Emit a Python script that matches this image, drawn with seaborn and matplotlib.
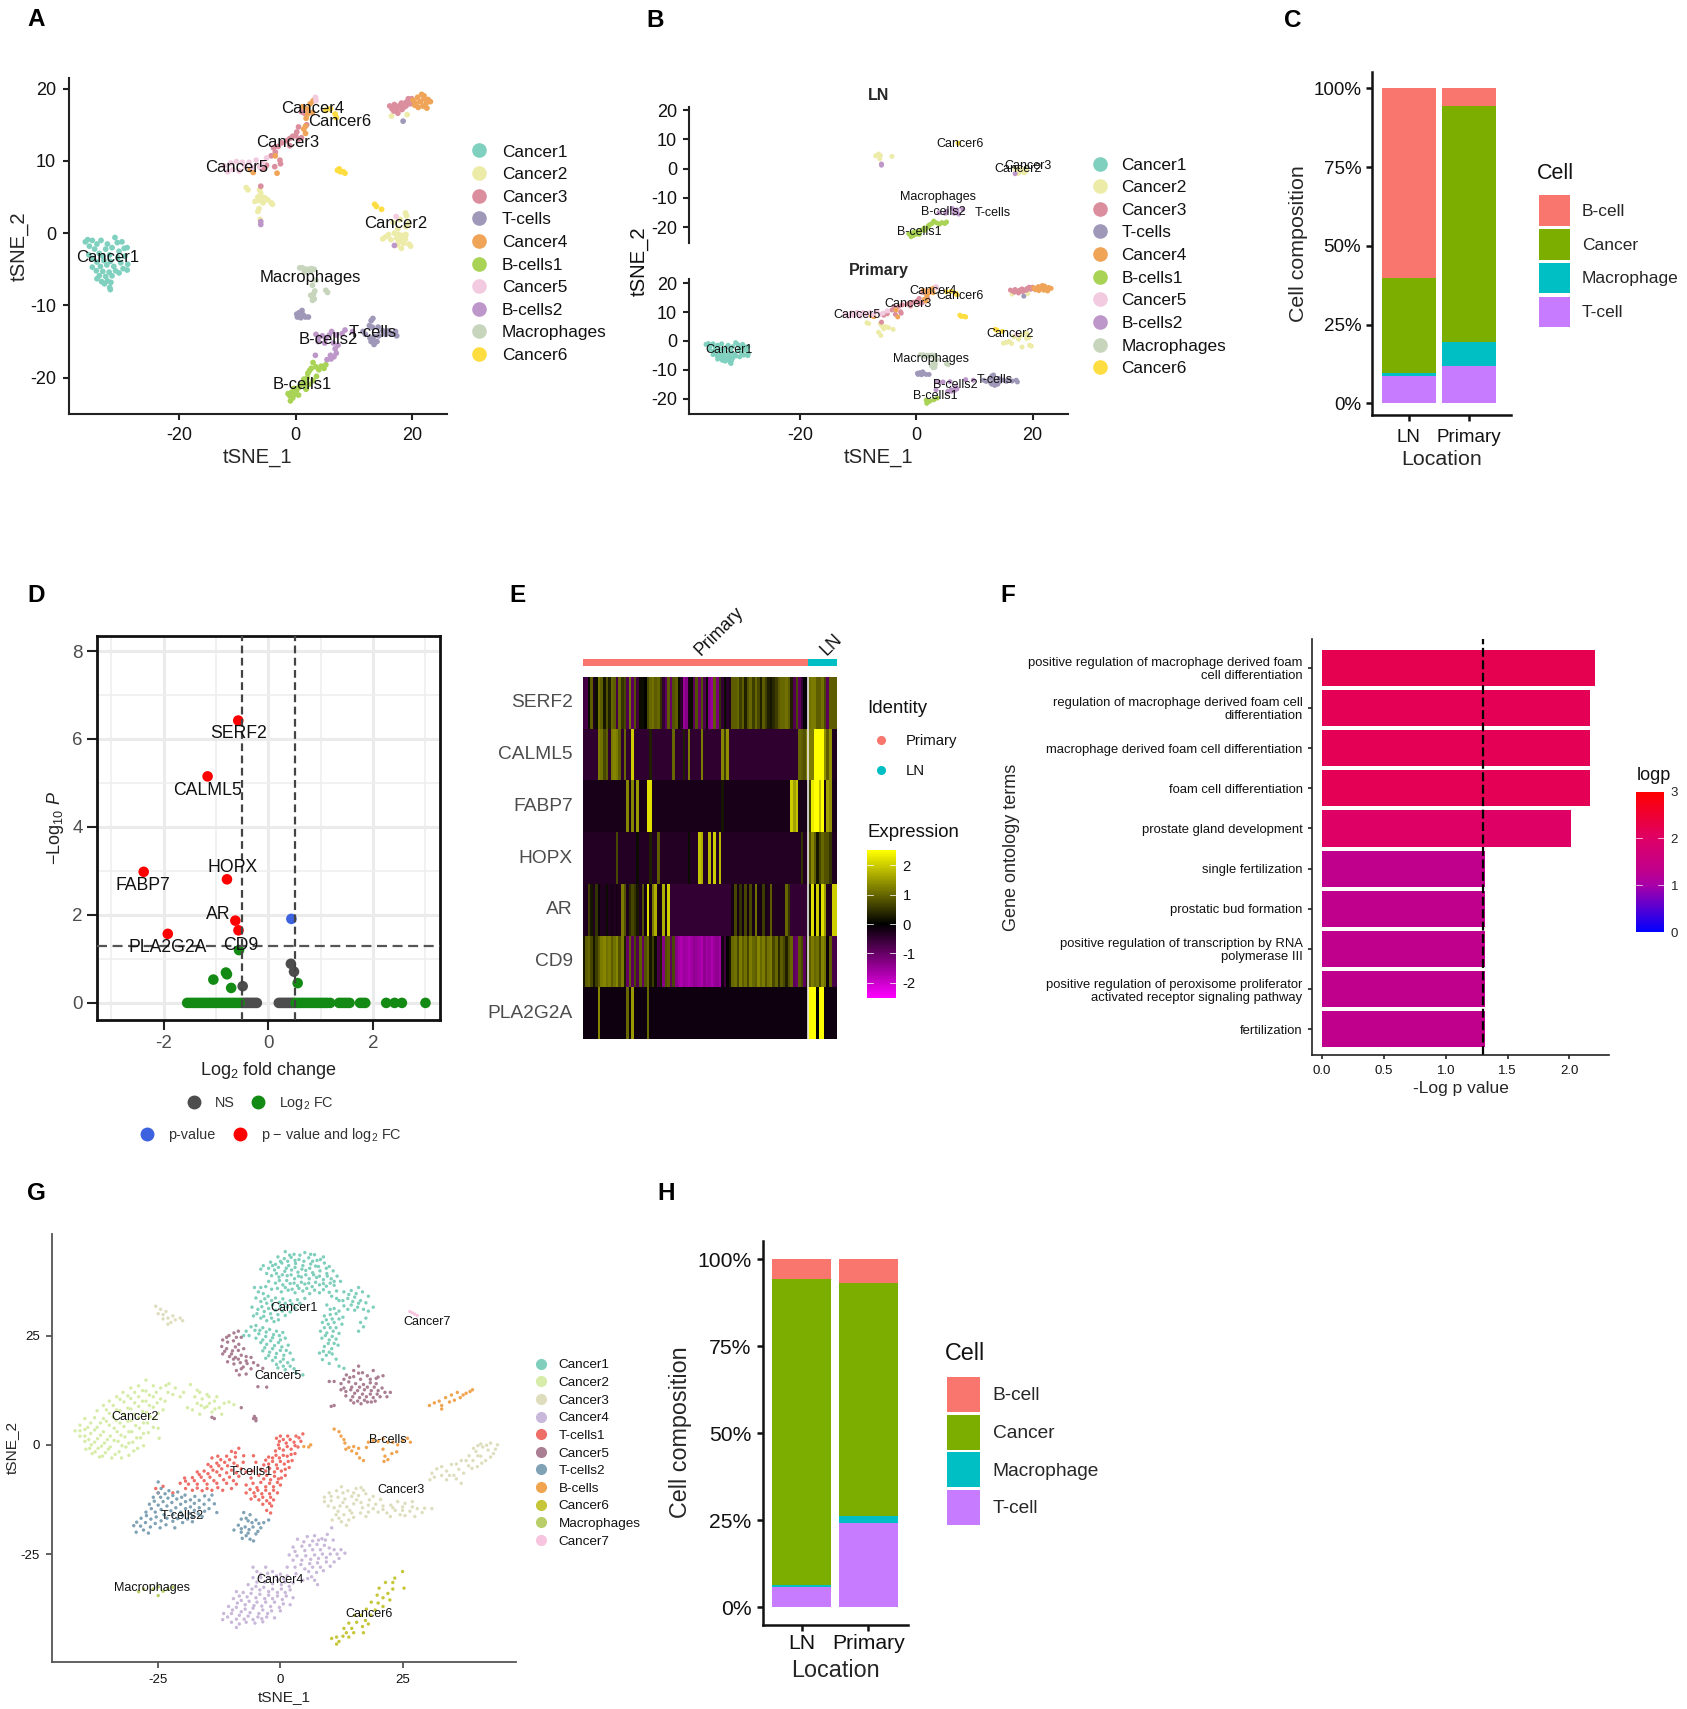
import numpy as np
import pandas as pd
import seaborn as sns
import matplotlib
matplotlib.use("Agg")
import matplotlib.pyplot as plt
from matplotlib.cm import ScalarMappable
from matplotlib.colors import LinearSegmentedColormap, ListedColormap, Normalize
from matplotlib.lines import Line2D
from matplotlib.patches import Patch

sns.set_theme(style="ticks")
plt.rcParams['font.family'] = ['Liberation Sans', 'DejaVu Sans']
plt.rcParams['mathtext.fontset'] = 'custom'
plt.rcParams['mathtext.rm'] = 'Liberation Sans'
plt.rcParams['mathtext.it'] = 'Liberation Sans:italic'
plt.rcParams['mathtext.default'] = 'regular'
plt.rcParams['axes.unicode_minus'] = False

# ---- panel A / B cells, tSNE coordinates ----
a_cancer1 = [(-36.2,-1.2),(-35.8,-0.9),(-35.5,-1.8),(-35.0,-1.0),(-34.6,-2.2),(-34.2,-1.5),(-33.8,-2.8),(-33.5,-1.0),
             (-33.2,-3.2),(-32.7,-2.2),(-32.4,-1.5),(-32.0,-3.0),(-31.6,-2.0),(-31.1,-0.6),(-30.7,-1.3),(-30.4,-2.5),
             (-29.9,-1.2),(-29.5,-2.1),(-29.0,-2.0),(-35.6,-3.0),(-34.9,-3.5),(-34.2,-4.0),(-33.6,-4.6),(-33.0,-3.8),
             (-32.5,-4.4),(-31.9,-3.9),(-31.3,-4.6),(-30.6,-3.4),(-30.1,-4.1),(-29.4,-3.2),(-28.9,-4.3),(-35.0,-4.7),
             (-34.3,-5.2),(-33.8,-5.9),(-33.2,-5.3),(-32.7,-6.0),(-32.1,-5.4),(-31.6,-5.9),(-31.0,-5.2),(-30.4,-5.5),
             (-29.7,-4.9),(-29.0,-5.1),(-34.2,-6.3),(-33.4,-6.7),(-32.9,-7.0),(-32.4,-6.6),(-31.8,-6.8),(-32.0,-7.5),(-31.9,-7.8)]
a_cancer2_primary = [(-8.5,6.3),(-8.2,6.0),(-6.2,6.0),(-6,5.5),(-5.8,4.9),(-5.3,4.9),(-5.6,4.2),(-4.8,4.6),(-4.0,4.0),
                     (-6.5,3.0),(-6.1,1.9),(18.9,2.8),(19.1,2.4),(18.0,1.9),(19.4,1.3),(19.0,0.9),(16.8,1.5),(17.6,0.6),
                     (15.5,-0.5),(15.0,-0.8),(16.0,-0.2),(16.4,-0.9),(19.5,-1.5),(19.8,-1.8),(18.2,-2.1),(16.5,16.2),
                     (19.2,16.4),(22.1,17.5)]
a_cancer2_ln = [(-6.5,5.0),(-6.2,4.5),(-7.0,4.4),(-6.3,3.4),(-4.2,4.2),(17.0,0),(17.8,-0.2),(18.5,-0.3),(19.0,-0.2),
                (17.4,-0.7),(18.2,-0.9),(18.9,-0.8),(17.7,-1.3),(18.6,-1.4),(17.5,-1.6)]
a_cancer3 = [(16.2,17.6),(16.6,17.2),(17,17.8),(17.4,17.2),(17.8,17.6),(18.2,18),(18.6,17.4),(19,18.1),(19.4,18.6),
             (19.7,17.9),(20,18.6),(20.3,18.1),(16.9,16.9),(17.6,16.6),(18.3,17.1),(19,17.6),(-6,6.5),(-2.7,10.1),
             (-2.6,9.6),(-3.6,9.2),(-5,9.4),(-5.6,8.9),(-4.2,10.7),(-3.5,11.2),(-3.8,11.8),(-3,12),(-2.4,12.5),
             (-1.5,12.8),(-1,13.1),(-0.5,13.4),(0,13.5),(0.5,13.0),(1,13.2),(0.2,14.0),(-1,12.1),(0.5,14.7),(1.9,15),
             (1,16.8),(1.5,16.6)]
a_tcells = [(18.5,15.5),(0.6,-11),(1.1,-10.7),(1.3,-11.3),(0.3,-11.6),(0.9,-11.7),(1.7,-11.6),(2.2,-11.6),(0.2,-11.2),
            (13,-12.1),(13.3,-11.8),(12.7,-12.8),(13.2,-13),(14.2,-13),(15,-13.5),(15.5,-14),(16,-13.5),(16.5,-13.9),
            (17.2,-13.6),(17.4,-14.2),(12,-14),(12.8,-14.5),(13.5,-14.3),(14.3,-14.2),(13,-15),(13.5,-15.4),(14,-15),
            (13.3,-14.8),(11.6,-13.6)]
a_cancer4 = [(20.2,18.4),(20.8,18.0),(21,18.8),(21.5,18.2),(21.7,19.2),(22.1,18.6),(22.5,18.0),(22.8,18.5),(23.2,18.2),
             (21.1,17.4),(21.9,17.6),(22.6,17.3),(20.5,17.7),(22.1,19.0),(1.2,17.5),(2,17.2),(2.5,17.9),(3,18.3),
             (3.4,18.6),(2.1,16.5),(2.9,16.7),(1.8,15.9),(1.7,14.8),(1.4,14.4),(1.7,13.8),(-3.2,8.3),(-7.3,8.4),
             (-3.5,10.7),(-7.8,8.8)]
a_bcells1_primary = [(1.8,-21.6),(2.3,-20.9),(3.0,-20.4),(3.6,-19.8),(1.7,-20.5)]
a_bcells1_ln = [(5.2,-18.2),(4.9,-18.7),(4.4,-18.4),(4,-18.9),(3.5,-18.5),(3,-17.9),(2.7,-18.7),(2.4,-19),(2.1,-19.4),
                (2,-20),(1.4,-20.2),(1,-20.9),(0.6,-21.3),(1.5,-21),(0.2,-21.7),(-0.3,-21.5),(-0.7,-22),(0,-22.3),
                (-1,-22.5),(-0.5,-22.8),(-1.3,-22.2),(-0.9,-23.2),(0.5,-22.4)]
a_cancer5 = [(-12.3,9.3),(-11.7,8.5),(-11.2,9.7),(-10.8,8.8),(-10.2,9.9),(-9.7,8.6),(-9.2,9.8),(-8.7,9.2),(-8.0,9.8),
             (-7.4,9.1),(-6.8,10.1),(-6.2,9.2),(-5.7,9.6),(-5.0,10.4),(3.4,18.8),(3.5,18.3),(17.3,2.3)]
a_bcells2_primary = [(3.5,-14),(4,-14.4),(4.6,-14.2),(5.8,-14.1),(8.5,-13.4),(3.4,-16.9),(6.8,-16),(7,-16.6),(6.6,-17.1),
                     (6.1,-17.4),(6,-16.9),(5.4,-17.5),(9.8,-13.6)]
a_bcells2_ln = [(-6,1.6),(-6,1.2),(17,-1.7),(3.9,-15),(5,-15.2),(6.5,-15.2),(7.3,-15.5),(6.2,-13.6),(7,-14.1),(8,-13.9),
                (5.2,-14.5)]
a_macrophages = [(0.7,-4.8),(1.2,-4.8),(1.8,-5),(2.2,-5),(2.7,-4.9),(3.2,-5),(1.5,-5.4),(2.6,-5.3),(3.3,-8),(3.1,-8.4),
                 (2.6,-8.6),(3,-8.9),(3.2,-9.1),(2.9,-9.3),(5.2,-7.9),(5.5,-8.2),(3.5,-6.5),(2.9,-7.2)]
a_cancer6_primary = [(7.5,8.9),(7.7,8.5),(8.2,8.5),(8.5,8.3),(13.6,4),(13.9,3.7),(14.8,3.3),(5.2,17),(6,17.2),(6.8,16.5),
                     (7.0,16.0)]
a_cancer6_ln = [(7.2,8.7)]

a_names = ['Cancer1', 'Cancer2', 'Cancer3', 'T-cells', 'Cancer4', 'B-cells1', 'Cancer5', 'B-cells2', 'Macrophages', 'Cancer6']
a_colors = ['#7FD0BE', '#EDEBA8', '#DB8E9E', '#A098B8', '#EFA458', '#A8D354', '#F3CBE0', '#BE97CA', '#C6D5BC', '#FDDD40']

a_label_pos = [('Cancer1',-32.4,-3.3),('Cancer2',17.2,1.4),('Cancer3',-1.3,12.6),('T-cells',13.3,-13.8),('Cancer4',3,17.2),
               ('B-cells1',1.1,-20.9),('Cancer5',-10.2,9.1),('B-cells2',5.6,-14.7),('Macrophages',2.6,-6.1),('Cancer6',7.5,15.5)]
b_lab_ln = [('Cancer6',7.5,8.5),('Cancer3',19.2,0.9),('Cancer2',17.5,0),('Macrophages',3.8,-9.5),('B-cells2',4.6,-14.9),
            ('T-cells',13.2,-15),('B-cells1',0.6,-21.5)]
b_lab_primary = [('Cancer1',-32.3,-3.2),('Cancer2',16.1,2.4),('Cancer3',-1.4,12.8),('T-cells',13.5,-13.6),('Cancer4',2.95,17.2),
                 ('B-cells1',3.3,-19.1),('Cancer5',-10.2,9),('B-cells2',6.7,-15.3),('Macrophages',2.5,-6.1),('Cancer6',7.5,15.4)]

# ---- panels C and H ----
locations = ['LN', 'Primary']
cell_types = ['B-cell', 'Cancer', 'Macrophage', 'T-cell']
cell_colors = ['#F8766D', '#7CAE00', '#00BFC4', '#C77CFF']
c_tcell = [8.6, 12.0]
c_macro = [0.9, 7.5]
c_cancer = [30.4, 74.8]
c_bcell = [60.1, 5.7]
h_tcell = [5.8, 24.2]
h_macro = [0.5, 1.9]
h_cancer = [88.1, 67.1]
h_bcell = [5.6, 6.8]

# ---- panel D ----
d_sig_x = [-0.575, -1.16, -2.38, -0.79, -0.63, -0.57, -1.92]
d_sig_y = [6.42, 5.15, 2.98, 2.81, 1.87, 1.65, 1.57]
d_pval_x = [0.44]
d_pval_y = [1.91]
d_ns_x = [0.43, 0.49, -0.49, -0.5, -0.46, -0.42, -0.38, -0.34, -0.3, -0.26, -0.22, 0.2, 0.24, 0.28, 0.32, 0.36, 0.4, 0.44, 0.48]
d_ns_y = [0.89, 0.71, 0.38, 0, 0, 0, 0, 0, 0, 0, 0, 0, 0, 0, 0, 0, 0, 0, 0]
d_fc_x = [-0.56, -0.81, -0.79, -1.05, -0.71, 0.56, -1.55, -1.5, -1.45, -1.4, -1.35, -1.3, -1.25, -1.2, -1.15, -1.1, -1.05, -1.0,
          -0.95, -0.9, -0.85, -0.8, -0.75, -0.7, -0.65, -0.6, -0.55, 0.52, 0.57, 0.62, 0.67, 0.72, 0.77, 0.82, 0.87, 0.92, 0.97,
          1.02, 1.07, 1.12, 1.18, 1.35, 1.4, 1.45, 1.5, 1.55, 1.75, 1.8, 1.85, 2.25, 2.41, 2.55, 3.0]
d_fc_y = [1.2, 0.69, 0.65, 0.53, 0.34, 0.45] + [0] * 47
d_labels = [('SERF2',-0.575,6.12),('CALML5',-1.17,4.84),('FABP7',-2.39,2.67),('HOPX',-0.69,3.08),('AR',-0.96,2.0),
            ('PLA2G2A',-1.92,1.26),('CD9',-0.52,1.3)]

# ---- panel E, one value per cell column: 88 primary, 11 LN ----
genes = ['SERF2', 'CALML5', 'FABP7', 'HOPX', 'AR', 'CD9', 'PLA2G2A']
serf2 = [-.6,-.7,.1,.9,-.3,.1,1.1,.9,.2,.8,
         .3,1,.9,-.7,1,.5,.7,-.8,1.1,-.9,
         .8,-.6,.1,.1,0,.7,1,1.1,.9,1,
         .5,-.5,-.9,.9,-1,.8,.9,.1,-.4,-1.5,
         -1.3,-.2,.1,-.9,.8,-1,.8,-.8,.1,-1.3,
         -1.5,.9,-1.2,.5,-.5,.1,-.4,-.3,.9,.9,
         1,.6,.9,.3,.8,1,.6,1,.7,.3,
         .9,.6,.3,.2,.4,.6,.9,1,1,1.1,
         .9,.3,-.8,.7,-.9,-.5,0,-.1,
         1.1,1.2,1.2,.9,.9,1.1,.7,-.9,.9,.9,.9]
calml5 = [-.45,-.45,-.45,-.45,-.45,-.45,1.2,1.1,.7,.9,
          -.45,1.2,1.3,1.2,.9,-.45,1,-.45,-.45,2,
          -.45,-.45,-.45,-.45,-.45,-.45,.3,-.45,-.45,-.45,
          -.45,-.45,-.45,-.45,-.45,1,-.45,-.45,-.45,.3,
          -.45,1.2,-.45,-.45,-.45,-.45,1.2,-.45,-.45,-.45,
          -.45,-.45,-.45,-.45,1.3,.6,1.4,-.45,-.45,-.45,
          -.45,-.45,-.45,-.45,-.45,-.45,-.45,-.45,-.45,-.45,
          -.45,-.45,-.45,-.45,-.45,-.45,-.45,-.45,-.45,-.45,
          -.45,-.45,-.45,-.45,1,.9,.8,1.2,
          1.2,1.2,2.5,2.5,2.5,2.5,1.4,.9,1.4,-.3,-.3]
fabp7 = [-.25,-.25,-.25,-.25,-.25,-.25,-.25,-.25,-.25,-.25,
         -.25,-.25,-.25,-.25,-.25,-.25,-.25,1.3,-.25,1.3,
         -.25,1.5,-.25,-.25,-.25,2.2,2.2,-.25,-.25,-.25,
         -.25,-.25,-.25,-.25,-.25,-.25,-.25,-.25,-.25,-.25,
         -.25,-.25,-.25,-.25,-.25,-.25,-.25,-.25,-.25,-.25,
         -.25,-.25,-.25,-.25,.2,-.25,-.25,-.25,-.25,-.25,
         -.25,-.25,-.25,-.25,-.25,-.25,-.25,-.25,-.25,-.25,
         -.25,-.25,-.25,-.25,-.25,-.25,-.25,-.25,-.25,-.25,
         -.25,2,1.6,1.9,-.25,-.25,-.25,-.25,
         .6,2.3,2.5,2.5,1.9,2.5,-.2,1.6,1.4,-.25,-.25]
hopx = [-.35,-.35,-.35,-.35,-.35,-.35,-.35,-.35,-.35,-.35,
        -.35,-.35,-.35,.7,-.35,-.35,-.35,-.35,-.35,-.35,
        -.35,.1,-.35,-.35,-.35,-.35,.3,-.35,-.35,.9,
        -.35,-.35,-.35,-.35,-.35,-.35,-.35,-.35,-.35,-.35,
        -.35,.1,-.35,-.35,-.35,1.9,1.7,-.35,-.35,1.8,
        -.35,2,-.35,1.8,-.35,-.35,-.35,-.35,-.35,-.35,
        -.35,-.35,-.35,-.35,-.35,-.35,-.35,-.35,-.35,-.35,
        -.35,-.35,-.35,-.35,-.35,-.35,-.35,-.35,-.35,-.35,
        -.35,-.35,-.35,-.35,-.35,.5,-.35,-.35,
        .8,1.3,.9,.2,.7,1,.8,.8,.5,-.3,-.3]
ar = [-.3,-.3,.6,.2,-.3,.5,-.1,-.3,-.3,.1,
      -.3,-.2,-.3,-.2,-.3,1.2,.8,-.3,.4,.7,
      .5,.2,-.3,.8,-.2,2.2,-.2,1.2,1.7,-.2,
      -.2,1.7,-.2,2,-.5,-.5,-.5,-.5,-.5,-.5,
      -.5,-.5,-.5,-.5,-.5,-.5,-.5,-.5,-.5,-.5,
      -.5,-.5,-.5,-.5,-.5,-.5,-.5,-.5,-.2,.7,
      -.2,.5,-.2,.7,-.2,.7,-.2,1.1,-.2,-.2,
      .6,-.2,-.3,.9,-.3,-.3,-.3,-.3,-.3,1,
      .5,-.5,-.5,-.5,-.5,-.5,-.5,-.5,
      .2,2.2,0,2,.1,2.2,1.5,-.3,-.3,2,2]
cd9 = [.2,.9,1,.7,.2,.6,.9,1.2,1.3,1.1,
       1.2,.9,1.1,1.3,.8,1.2,.3,-1,.9,-.9,
       .7,-.8,.9,-1,.8,1,.2,.6,.1,-.7,
       .3,-1.3,.8,.9,-.9,.7,-1.3,-1.6,-1.7,-1.5,
       -1.6,-1.7,-1.6,-1.4,-1.5,-1.6,-1.7,-1.4,-1.6,-1.5,
       -1.7,-1.5,-1.4,-1.6,-.2,-.6,0,.2,1,1.1,
       .7,1.2,.9,1.1,.7,1.2,1,.9,1.3,1,
       1.2,.8,1.1,1.2,.7,1,.4,.9,.7,.3,
       .8,1,-.9,-1,.9,.7,-.9,.2,
       .9,1.2,1,1.1,.7,1.3,1.1,-.1,.9,-.7,-.7]
pla2g2a = [-.15,-.15,-.15,-.15,-.15,-.15,1.3,-.15,-.15,-.15,
           -.15,-.15,-.15,-.15,-.15,-.15,-.15,1,-.15,1.5,
           -.15,-.15,-.15,-.15,-.15,1,-.15,-.15,-.15,-.15,
           -.15,-.15,-.15,-.15,-.15,-.15,-.15,-.15,-.15,-.15,
           -.15,-.15,-.15,-.15,-.15,-.15,-.15,-.15,-.15,-.15,
           -.15,-.15,-.15,-.15,-.15,-.15,-.15,-.15,-.15,-.15,
           -.15,-.15,-.15,-.15,-.15,-.15,-.15,-.15,-.15,-.15,
           -.15,-.15,-.15,-.15,-.15,-.15,-.15,-.15,-.15,-.15,
           -.15,-.15,-.15,-.15,-.15,-.15,-.15,-.15,
           2.5,2.5,2.5,0,2.5,2.5,-.1,-.15,-.15,-.15,-.15]
identity_ids = [0] * 88 + [1] * 11

# ---- panel F ----
go_terms = ['positive regulation of macrophage derived foam\ncell differentiation',
            'regulation of macrophage derived foam cell\ndifferentiation',
            'macrophage derived foam cell differentiation',
            'foam cell differentiation',
            'prostate gland development',
            'single fertilization',
            'prostatic bud formation',
            'positive regulation of transcription by RNA\npolymerase III',
            'positive regulation of peroxisome proliferator\nactivated receptor signaling pathway',
            'fertilization']
go_logp = [2.21, 2.17, 2.17, 2.17, 2.01, 1.32, 1.32, 1.32, 1.32, 1.32]

# ---- panel G cells ----
g_cancer1 = [(1,44.2),(2.8,43.6),(5,44),(7,43.5),(-0.5,43),(0.8,42.6),(2.2,42.9),(3.8,42.4),(5.8,42.8),(7.5,42.2),(8.8,43),
             (-2,41.8),(-1,41.3),(0.3,41.6),(1.7,41),(3.1,41.5),(4.6,41),(6.2,41.4),(7.2,40.9),(9,41.6),(10,40.8),(-3.5,41),
             (-2.4,40.4),(-1.2,40),(0.9,39.7),(2.3,40),(3.6,39.5),(5.2,39.9),(6.6,39.4),(8.1,39.8),(9.5,39.2),(10.8,39.8),
             (-4,40.2),(-1.8,38.7),(-0.3,38.4),(1.4,38.7),(2.9,38),(4.3,38.4),(5.9,38),(7.4,38.3),(8.8,37.8),(10.4,38),
             (11.6,38.6),(12.3,37.4),(-1,37),(0.5,36.6),(2,36.9),(3.5,36.4),(5,36.8),(6.5,36.2),(8,36.6),(9.4,36.3),(11,36.5),
             (-3,36.2),(-1.8,35.6),(0.2,35),(1.6,35.4),(3,34.8),(4.6,35.2),(6,34.6),(8,34.8),(10,34.9),(11.5,35.2),
             (-5.3,36),(-4.5,35),(-3.5,34.6),(-2.5,34),(-1,33.6),(0.5,33.4),(2,33),(3.5,33.2),(5,33.5),(-5,33.6),(-4,32.8),
             (-2.8,32.4),(-1.6,32),(0,31.7),(1.4,31.5),(3,31.3),(-5.8,31.5),(-4.6,31),(-3.3,30.5),(-2,30),(-0.5,29.8),(1,29.6),
             (-5.5,29.5),(-4,29),(-2.8,28.4),(-1.3,28.2),(-7,26),(-6,27),(-5,27.3),(-3.6,26.8),(-2.2,26.4),(-0.8,26),(0.5,25.7),
             (-7.5,25),(-6.4,25),(-4.4,25.4),(-3,24.8),(-1.6,24.5),(0,24),(1,24.4),(-4,23.4),(-2.8,23),(-1.2,22.7),(0.3,22.4),
             (1.6,22.8),(-3.6,21.5),(-2.2,21.2),(-0.8,20.9),(0.7,20.5),(2,21),(-3,19.8),(-1.6,19.3),(0,19),(1.5,18.8),(2.6,19.5),
             (-0.5,17.6),(1,17.2),(2,18),(2.8,17.4),(3.2,16.4),(4.6,16),(11.5,33.5),(13,35),(14.5,35.3),(16,36),(16.8,35),
             (18,34),(19,31.5),(10.5,34),(12,33),(13.8,33.5),(15.2,33.8),(16.4,33),(17.5,32.5),(13,31.8),(14.5,32),(15.8,31.5),
             (17,31),(18,30.6),(9.5,32),(11,31.2),(9,29.5),(10.2,29.8),(11.4,30),(12.8,29.2),(8.6,28),(9.8,27.6),(11,28),
             (12.6,27.6),(16.4,28),(17.5,29),(8.2,26),(9.5,25.6),(10.8,26),(12,25.5),(16,26),(17,27),(8.5,24.4),(10,24),(11.4,24.2),
             (9,22.5),(10.5,22),(11.8,22.8),(8,21),(9.4,20.5),(10.6,20.8),(8.6,19.5),(10,18.6),(11.4,19.6),(12,18),(13,17.5),
             (1.9,43.4),(4,43.4),(6.2,43.6),(0,42),(1.5,42),(3,42.2),(4.8,42),(6.6,42),(8.2,42.4),(-1.6,41),(-0.4,40.6),(1.2,40.4),
             (3,40.6),(4.4,40.2),(6,40.4),(7.8,40.8),(9.4,40.4),(-2.8,39.2),(-0.8,39.2),(0.4,38.9),(2.2,38.9),(3.7,38.6),(5.2,38.9),
             (6.8,38.9),(8,38.6),(9.6,38.6),(11,37.4),(-0.2,37.6),(1.3,37.6),(2.8,37),(4.3,37.2),(5.8,37),(7.2,37.2),(8.8,36.9),(10.2,37),
             (-2.4,37.4),(-0.6,35.8),(1,36),(2.4,35.6),(3.8,35.8),(5.4,35.8),(7,35.4),(8.8,35.5),(-4,36),(-3.2,33.4),(-1.8,33),(-0.2,32.6),
             (1,32.4),(2.4,32.2),(4,32.4),(-3.8,31.6),(-2.4,31.2),(-1,30.8),(0.4,30.6),(2,30.4),(-4.8,30),(-3.4,29.4),(-1.8,29),(-0.4,28.6),
             (-5.2,26.2),(-4.2,26.2),(-2.9,25.8),(-1.4,25.2),(-0.2,25),(-5,24.4),(-3.6,24),(-2,23.8),(-0.4,23.4),(-3.2,22.2),(-1.6,22),(0,21.6),
             (1.2,21.6),(-2.4,20.4),(-1,20),(0.6,19.6),(-0.8,18.4),(0.6,18),(14,34.4),(15.5,34.6),(12.8,33),(14.8,32.8),(16,32.4),(13.8,31),
             (15.2,30.8),(10.2,31),(12,30.6),(9.4,28.6),(10.6,28.8),(12,28.8),(9,26.8),(10.2,26.8),(11.4,26.8),(9.2,25),(10.6,24.8),(9.8,23.2),
             (11,23.2),(8.8,21.4),(10,21.2)]
g_cancer2 = [(-42,3.2),(-41,4.5),(-41,2),(-40,6),(-40,3.5),(-40,0.8),(-39.8,-1),(-38.8,5),(-38.8,2.6),(-38.7,0),(-38.5,-2),
             (-37.5,7.8),(-37.5,4),(-37.4,1.4),(-37.3,-0.8),(-37,-2.8),(-36.2,9),(-36.2,6),(-36.2,3),(-36,0.4),(-35.8,-1.8),
             (-35,10),(-35,7.2),(-35,4.5),(-34.8,2),(-34.8,-0.5),(-34.5,-3),(-33.5,11),(-33.5,8),(-33.6,5.6),(-33.4,3),(-33.2,0.8),
             (-33,-1.6),(-32.5,-3),(-32.2,12),(-32,9.8),(-32,7),(-32,4.2),(-31.8,1.8),(-31.6,-0.5),(-31,-2.4),(-30.6,13),(-30.6,10.6),
             (-30.6,8.2),(-30.5,5.6),(-30.4,3),(-30.2,0.6),(-30,-1.4),(-29,13.5),(-29,11),(-29,8.8),(-29,6.2),(-28.8,3.8),(-28.6,1.6),
             (-28,-0.2),(-27.5,14.8),(-27.5,12.3),(-27.5,10),(-27.4,7.4),(-27.2,5),(-27,2.8),(-26,13.5),(-26,11),(-26,8.6),(-25.8,6),
             (-25,3.8),(-24.8,1.5),(-24.5,13),(-24.5,10.5),(-24,8),(-23,12),(-22.8,14),(-22,11.5),(-21.5,13),(-20.5,11),(-19.8,12),
             (-18.4,13.8),(-17.5,11),(-17,9.5),(-16.5,12),(-16,10.5),(-15.5,8.5),(-15,11.5),(-14.5,9.5),(-14,7.5),(-13.5,10),(-18,8),
             (-19,8.5),(-12.5,8.5),(-12,7),(-11.5,9.5),(-10.5,9.8),(-9.5,9.2),(-16.5,7),
             (-41,3.2),(-40,2),(-39.4,4),(-39.2,1.2),(-39,-.8),(-38,6.2),(-38,3.4),(-38,.6),(-37.9,-1.6),(-36.8,5),(-36.8,2.2),(-36.6,-.3),
             (-36.4,-2.6),(-35.6,8),(-35.6,5.4),(-35.4,1.2),(-35.2,-1),(-34.2,9),(-34.2,6.4),(-34,3.8),(-34,1),(-33.8,-2.2),(-32.8,10.4),
             (-32.8,7.8),(-32.8,5),(-32.6,2.2),(-32.4,-.2),(-31.2,11.2),(-31.2,8.4),(-31.2,5.4),(-31,3),(-31,.4),(-29.8,12),(-29.8,9.6),
             (-29.8,7),(-29.6,4.4),(-29.4,1.6),(-29.2,-.8),(-28.2,12.4),(-28.2,10),(-28.2,7.6),(-28,5),(-28,2.6),(-26.8,11.4),(-26.8,9),
             (-26.6,6.4),(-26,4),(-25.4,12),(-25.2,9.6),(-25,7.2),(-23.6,10),(-23.4,13.6),(-17,12.5),(-16.2,9),(-15,8.8),(-14.6,11),(-13.4,8.2),(-13,11)]
g_cancer3 = [(9,-12),(10,-11),(11.5,-10.5),(12.5,-9.6),(13.8,-10.5),(15.5,-10),(16.5,-9.8),(9,-13),(10.4,-12.8),(11.8,-12),
             (13.2,-12.4),(14.6,-11.8),(16,-11.6),(17.5,-11.2),(19,-11.8),(20.5,-12.5),(11,-14.4),(12.2,-14),(13.6,-14.2),(15,-13.5),
             (16.5,-13.2),(18,-13.8),(19.5,-13.6),(21,-14),(22.6,-13.8),(24,-13),(25.5,-13.4),(27,-13),(11.4,-16),(13,-16),(14.6,-15.6),
             (16.4,-15.6),(18,-15.4),(20,-15.4),(21.8,-15.6),(23.5,-15),(25,-15),(26.5,-15.2),(28,-14.6),(29.5,-14.5),(31,-14.6),
             (10.6,-17.2),(12.5,-17.6),(14,-17.2),(25.5,-16.2),(27.5,-16.4),(13.5,-18.4),(30.6,-8),(31,-6.5),(32,-5.5),(33,-7),(34,-6),
             (35,-4.5),(35.5,-7),(36.5,-5.6),(37,-3.6),(37.5,-6.5),(38.5,-4.8),(38.6,-2.5),(39.4,-3.6),(40,-1.5),(40.3,-5),(41,-2.6),
             (41.4,-0.5),(42,-3.6),(42.5,-1.2),(43,0.4),(43.6,-2),(44.4,0),(39.5,-0.8),(41,0.2),(37,-8.8),(34,-8),(-25.5,31.7),
             (-24.5,31),(-25,30),(-24,29.8),(-23.4,30.5),(-23,29),(-22.4,28),(-22,29.5),(-21.5,28.6),(-20.5,29),(-20,28.4),(-23,27.6),(-24,28.8),
             (10.4,-11.8),(12.8,-11),(15,-11),(17,-10.4),(9.8,-14),(12.8,-13.2),(15.6,-12.6),(18.2,-12.6),(11.8,-15.2),(14.2,-15),(16.8,-14.4),
             (19,-14.6),(21,-14.8),(23,-14.4),(25,-14.2),(27,-14.2),(12,-16.8),(15,-16.6),(17.5,-16.4),(22.5,-16.4),(24.5,-16),(29,-15.5),
             (31.5,-7.4),(33,-5),(34.6,-7),(36,-4.4),(36,-7.8),(38,-3.6),(39.2,-5.4),(40.4,-2.5),(41.2,-4.2),(42.2,-.1),(43,-2.8),(44,-1),(40.4,-.2)]
g_cancer4 = [(10.5,-19),(9.6,-20.5),(8.5,-21.5),(7,-20.8),(5.5,-21),(3.5,-21.6),(10.8,-21.8),(9,-23),(7.5,-22.8),(6,-23),(4.4,-23.2),
             (2.6,-23.4),(11,-24),(12.4,-24),(13.2,-24.8),(10.2,-25),(8.6,-25),(7,-25.2),(5.2,-25.4),(3.4,-25.4),(1.8,-25.2),(12,-26),
             (11,-26.8),(9.4,-26.8),(7.6,-27),(6,-27.2),(4.2,-27.4),(8.8,-28.8),(7.4,-29.2),(5.8,-29),(3.2,-29.5),(1.4,-28),(7,-31),
             (5.6,-30.6),(4.6,-31),(7.6,-32),(-5.6,-28),(-4.8,-29),(-3,-28),(-1.6,-29),(0,-29.6),(1.4,-30),(-5.6,-30.4),(-4,-30.4),
             (-2.4,-30.6),(-0.6,-31),(1,-31.4),(2.6,-31.6),(-6.6,-32),(-5,-32.4),(-3.4,-32.6),(-1.6,-33),(0.2,-33),(2,-33.2),(-9,-33.6),
             (-7.6,-33.8),(-6,-34),(-4.2,-34.2),(-2.4,-34.4),(-0.6,-34.6),(1.2,-34.6),(2.6,-35),(-9.6,-35.2),(-8,-35.6),(-6.4,-35.8),
             (-4.8,-36),(-3,-36),(-1.2,-36),(0.6,-36.4),(2,-36.6),(-10.6,-37),(-9,-37.2),(-7.2,-37.6),(-5.6,-37.4),(-3.6,-37.8),(-1.8,-38),
             (0,-38),(-11.6,-38.6),(-10,-38.6),(-8.4,-39),(-6.6,-39.2),(-4.6,-39.4),(-2.8,-39.4),(-1.2,-39.6),(-11.8,-40),(-10,-40.6),
             (-8.4,-41),(-7,-40.6),(-5.2,-40.8),(-3.6,-40.5),(-9,-41.8),
             (9.2,-21.8),(7.8,-21.8),(6.6,-22),(4.8,-22.2),(10,-23.6),(8.2,-24),(6.6,-24),(5,-24.2),(3,-24.4),(11.6,-25),(9.4,-25.8),(7.8,-26),
             (6.2,-26.2),(4.4,-26.4),(2.6,-26.4),(10.2,-27.8),(8.2,-28),(6.6,-28),(5,-28.4),(3,-28),(6.4,-30.2),(-4,-29.6),(-2.6,-29.4),(-.8,-30),
             (.7,-30.6),(-4.8,-31.4),(-3.2,-31.4),(-1.6,-31.8),(.2,-32),(1.8,-32.4),(-5.8,-33),(-4.2,-33.2),(-2.4,-33.6),(-.6,-33.8),(1,-33.8),
             (-8.4,-34.6),(-6.8,-34.8),(-5,-35),(-3.2,-35.2),(-1.6,-35.2),(.4,-35.4),(-8.8,-36.2),(-7.2,-36.6),(-5.4,-36.8),(-3.8,-36.9),(-2,-37),
             (-.2,-37.2),(-9.8,-37.8),(-8,-38.2),(-6.2,-38.4),(-4.4,-38.6),(-2.6,-38.6),(-10.8,-39.4),(-9,-39.9),(-7.4,-39.9),(-5.6,-40),(-3.8,-39.8)]
g_tcells1 = [(4.6,2.5),(3.2,2),(1.5,2),(0,2),(-0.8,1.5),(4.2,0.8),(2.8,0.6),(1.2,0.4),(-0.4,0),(3.6,-0.5),(2.2,-1),(0.6,-1.2),(-1,-1.4),
             (3,-2),(1.4,-2.6),(-0.2,-3),(-1.6,-3),(-3,-3.5),(2.4,-3.6),(0.8,-4.4),(-0.8,-4.6),(-2.4,-4.4),(1.8,-5.2),(0.2,-6),(-1.2,-6.2),
             (-3,-6),(1,-7),(-0.4,-7.8),(-2,-8),(-3.4,-7.8),(0,-9.2),(-1.4,-9.6),(-3,-9.6),(-4.8,-9.8),(-0.6,-11),(-2.2,-11.2),(-3.8,-11.2),
             (-5.4,-11),(-1.4,-12.6),(-2.8,-12.8),(-4.4,-12.6),(-6,-12.4),(-1.8,-14),(-2.8,-15),(-2,-15.6),(-8.5,-0.8),(-10,-1.5),(-7.5,-2.5),
             (-9.2,-2.8),(-11,-2.6),(-12.8,-2.6),(-14,-3),(-7.6,-4),(-9.5,-4.2),(-11.4,-4),(-13,-4.2),(-14.8,-4.5),(-8,-5.5),(-10,-5.8),
             (-12,-5.5),(-13.8,-5.8),(-15.6,-6),(-17,-6.2),(-8.5,-7.2),(-10.4,-7.4),(-12.4,-7),(-14.4,-7.4),(-16.2,-7.4),(-18,-7.5),(-19.6,-7.6),
             (-9,-9),(-11,-8.8),(-13,-8.8),(-15,-9),(-17,-9),(-18.8,-9),(-20.5,-8.8),(-11.8,-10.4),(-14,-10.4),(-16,-10.5),(-18,-10.4),
             (-25.5,-10),(-25,-11),(-24,-9.5),(-22,-11),
             (3.8,1.6),(2,1.2),(.6,1.2),(-.2,.8),(3,-.2),(1.4,-.4),(-.2,-.8),(2.2,-2.2),(.6,-2.4),(-.9,-2.4),(-2.4,-2.8),(1.6,-3.8),(0,-3.8),
             (-1.6,-3.8),(-3.4,-4.6),(1,-5.6),(-.6,-5.4),(-2.2,-5.4),(-4,-5.6),(-5,-4),(-5.5,-2.5),(-5.8,-6),(.2,-7.6),(-1.2,-7.2),(-2.8,-7),
             (-4.4,-7),(-6,-7.6),(-7,-6.2),(-.6,-8.6),(-2.2,-8.8),(-4,-8.6),(-5.6,-8.8),(-7,-9.2),(-1.4,-10.4),(-3,-10.4),(-4.6,-10.4),(-6.2,-10.2),
             (-7,-11),(-2,-12),(-3.6,-12),(-5.2,-11.8),(-2.2,-13.4),(-3.6,-13.6),(-9.2,-1.8),(-10.4,-3.4),(-12.2,-3.4),(-8.8,-4.8),(-10.8,-4.8),
             (-12.6,-4.8),(-14.2,-5),(-9,-6.4),(-11,-6.4),(-13,-6.2),(-14.8,-6.6),(-16.6,-6.8),(-9.6,-8.2),(-11.6,-8),(-13.6,-8.2),(-15.6,-8.2),
             (-17.6,-8.2),(-19.4,-8.3),(-10,-10),(-12.8,-9.8),(-15,-10),(-17,-9.9),(-19.4,-10)]
g_cancer5 = [(-11.8,24),(-10.5,25),(-9.5,25.6),(-8.6,26),(-8,24.6),(-10.8,23.5),(-9.6,23.8),(-8.5,23),(-12,22.5),(-11,22),(-9.8,21.5),
             (-8.6,21.6),(-7.5,22),(-11.8,20.8),(-10.4,20.2),(-9.2,20),(-8,20.5),(-7,20.2),(-6,20),(-10.8,19),(-9.5,18.5),(-8.2,18.8),
             (-6.8,18.6),(-5.5,18.8),(-9,17),(-8,17.4),(-7,16.2),(-8.4,16),(-4.6,18.2),(-3.6,17.5),(-2.8,13.2),(-4.6,13.3),(16,18),(16.8,16.5),
             (15,17),(13.5,16),(15,15.6),(16.4,15),(17.8,15.8),(19,17),(20,15.5),(21,15.8),(13,15),(12.4,14),(14,14.4),(15.4,14),(17,13.8),
             (18.4,14.2),(19.6,14),(13,13),(14.4,12.6),(15.8,12.4),(17.2,12.6),(18.6,12.4),(20,12.4),(21.4,12),(22.5,12),(13.4,11.2),(14.8,11),
             (16.2,10.8),(17.6,11),(19,10.8),(20.4,11),(15,9.6),(16.5,9.4),(17.8,9.8),(19.4,10),(11,9),(10.4,8.8),(11,14.5),(10,14.5),(-5.5,6),
             (-5,6),(-5,5.5),(-5.3,6.5),(-14,6.3),(-13.5,6),(-8,8.5),
             (-11,24.6),(-9,24.6),(-11.4,21.4),(-9.2,22.4),(-10,20.8),(-8.6,19.6),(-7,19.2),(-9.6,19.6),(-7.6,17.8),(-6,17.4),(14.2,15.4),(16,16.4),
             (18.4,15),(19.6,15.2),(14.6,13.2),(16.2,13.2),(17.8,13.2),(19.2,13.2),(20.8,13),(13.4,12.2),(15.2,11.8),(16.8,11.6),(18.4,11.6),
             (19.8,11.6),(21.8,11),(14.4,10.2),(15.8,10),(17.2,10.2),(18.6,9.8),(12.4,12.6)]
g_tcells2 = [(-25,-8.5),(-24.4,-10),(-22.8,-10.5),(-21,-10.8),(-19.5,-11.5),(-17.5,-11.8),(-15.5,-11.7),(-14,-11.5),(-26,-12),(-24.5,-12),
             (-23,-12.2),(-21.2,-12.4),(-19.4,-13),(-17.6,-13.4),(-15.6,-13.6),(-13.5,-13.5),(-26.8,-13.6),(-25,-13.8),(-23.2,-14),(-21.4,-14.4),
             (-19.4,-14.6),(-17.6,-15),(-15.5,-15.2),(-13,-15.5),(-27.5,-15.4),(-25.6,-15.4),(-23.8,-16),(-22,-16),(-20,-16.2),(-18,-16.4),
             (-16,-16.4),(-28.5,-16.8),(-26.5,-17),(-24.4,-17.4),(-22,-17.5),(-20,-17.8),(-18,-17.6),(-30,-18.5),(-28.6,-18.6),(-26.6,-18.8),
             (-24.6,-19),(-21.6,-19),(-29.5,-20),(-27,-20.2),(-7.5,-15.5),(-6.2,-16),(-8,-17),(-6.6,-17.4),(-5,-17.2),(-3.4,-17.8),(-2.4,-17.2),
             (-8.6,-18.4),(-7.2,-18.8),(-5.6,-18.8),(-4,-19),(-9.5,-19.5),(-8,-20),(-6.6,-20.2),(-5,-20.4),(-7.8,-21.4),(-6.2,-21.6),(-5.5,-22),
             (-25,-11),(-23.6,-11.2),(-22,-11.6),(-20.2,-12),(-18.4,-12.6),(-16.6,-12.7),(-14.6,-12.6),(-25.8,-12.9),(-24,-13),(-22.2,-13.2),
             (-20.4,-13.6),(-18.4,-14.2),(-16.6,-14.4),(-14.6,-14.6),(-26.4,-14.6),(-24.4,-14.8),(-22.4,-15.1),(-20.4,-15.4),(-18.6,-15.7),
             (-16.8,-15.8),(-27.4,-16.2),(-25.4,-16.5),(-23.2,-16.8),(-21,-16.9),(-19,-17),(-29.4,-17.7),(-27.6,-17.8),(-25.6,-18),(-23.4,-18.3),
             (-28,-19.5),(-7,-16.8),(-5.8,-17.8),(-4.4,-18),(-8,-19.2),(-6.4,-19.4),(-4.6,-19.8),(-7,-20.8)]
g_bcells = [(11,3.6),(12,3),(12.4,2),(13,1.2),(13.2,0.4),(14,-0.6),(13.4,-1),(14.6,-1.4),(15.6,-2),(16.2,-3),(17,-3.6),(15,-0.4),(16,-0.8),
            (17.6,-0.6),(18,0.6),(19,1),(20,0.8),(21,1.4),(22,0.6),(21,-1),(21.4,-2.6),(22,-3.4),(21.2,-3.8),(22.8,-2),(23.8,-1.6),(24,0),(25,1),
            (26,1.5),(26.6,0.6),(23,0.6),(30.5,9),(31.5,9.6),(32.5,10),(33,9),(33.8,10.8),(34.6,9.8),(35,11.4),(35.6,10.2),(36.2,12),(36.8,10.8),
            (37.4,11.4),(38,11.8),(38.8,12.2),(39.3,12.6),(33,8.2),(6.2,0),(5.8,-0.5),(4.8,-0.4)]
g_cancer6 = [(25,-29),(23.4,-30.5),(23,-31.5),(21.5,-31.5),(23,-33),(20.2,-32.8),(25.3,-32.8),(22,-34),(19.8,-34.4),(21,-35),(22.4,-35.5),
             (20,-36.2),(18.6,-36),(21,-37),(19.4,-37.8),(17.6,-37.6),(18.5,-39),(16.6,-39),(15.2,-39),(17.4,-40.2),(15.6,-40.6),(14,-40.8),
             (16.8,-41.6),(14.6,-42),(13,-42),(15,-43),(12.8,-43.8),(11.5,-44),(10.5,-44.3),(12,-45),(11.5,-45.6),(13.5,-43),(14,-44),(18,-41),(17,-43)]
g_macrophages = [(-29,-33.6),(-28,-33),(-26,-33),(-25,-32.5),(-24,-33.5),(-23,-33),(-22,-32.6),(-25,-34.5)]
g_cancer7 = [(26.5,30.5),(27,30.2),(27.5,29.9),(28,29.6)]

g_names = ['Cancer1', 'Cancer2', 'Cancer3', 'Cancer4', 'T-cells1', 'Cancer5', 'T-cells2', 'B-cells', 'Cancer6', 'Macrophages', 'Cancer7']
g_colors = ['#7FCFBC', '#D6ECA8', '#DEDEBE', '#C9B8DA', '#EF6E68', '#AB7F93', '#80A2B5', '#F0A450', '#C6C63A', '#B8CE68', '#F7C5DF']
g_label_pos = [('Cancer1',2.9,31.3),('Cancer7',30.1,28.1),('Cancer5',-0.4,15.7),('Cancer2',-29.8,6.3),('B-cells',22,1.1),('T-cells1',-6,-6.3),
               ('Cancer3',24.7,-10.3),('T-cells2',-20,-16.3),('Cancer4',0,-31),('Macrophages',-26.2,-32.7),('Cancer6',18.2,-38.6)]

W, H = 1546.5, 1567.5
PX = 100 / 72 / (1687 / W)  # one font point in the coordinates used for layout
fig = plt.figure(figsize=(16.87, 17.09), dpi=100)


def box(x0, y0, x1, y1):
    return fig.add_axes([x0 / W, 1 - y1 / H, (x1 - x0) / W, (y1 - y0) / H])


def cells_frame(groups, names):
    rows = []
    for name, pts in zip(names, groups):
        rows += [(name, p[0], p[1]) for p in pts]
    return pd.DataFrame(rows, columns=['cluster', 'x', 'y'])


def tsne(ax, groups, names, colors, labels, lab_fs, size):
    df = cells_frame(groups, names)
    sns.scatterplot(data=df, x='x', y='y', hue='cluster', hue_order=names, palette=colors, s=size,
                    linewidth=0, legend=False, ax=ax)
    for name, x, y in labels:
        ax.text(x, y, name, fontsize=lab_fs, ha='center', va='center', color='#111111')
    ax.set_xlabel('')
    ax.set_ylabel('')


def style_axes(ax, tick_fs, lw=1.5, color='#222222', length=4, pad=5):
    sns.despine(ax=ax)
    for side in ['left', 'bottom']:
        ax.spines[side].set_linewidth(lw)
        ax.spines[side].set_color(color)
    ax.tick_params(labelsize=tick_fs, width=lw, length=length, color=color, labelcolor='#111111', pad=pad)


def dot_legend(ax, names, colors, xmark, xtext, ytop, pitch, fs, ms):
    fs_l = fs * PX
    handles = [Line2D([], [], linestyle='', marker='o', color=c, markersize=ms) for c in colors]
    leg = ax.legend(handles, names, loc='upper left', bbox_to_anchor=((xmark - fs_l / 2) / W, 1 - ytop / H),
                    bbox_transform=fig.transFigure, frameon=False, fontsize=fs, handlelength=1,
                    handletextpad=(xtext - xmark) / fs_l - 0.5, labelspacing=pitch / fs_l - 0.87,
                    borderpad=0, borderaxespad=0, alignment='left')
    for t in leg.get_texts():
        t.set_color('#111111')
    return leg


def stack_panel(ax, tcell, macro, cancer, bcell, bar_width, tick_fs, lab_fs, tick_pad, label_pad):
    layers = [tcell, macro, cancer, bcell]
    tops = np.cumsum(np.array(layers), axis=0)
    # tallest first, each shorter one painted over it
    for i in [3, 2, 1, 0]:
        sns.barplot(x=locations, y=tops[i], color=cell_colors[3 - i], saturation=1, width=bar_width, linewidth=0, ax=ax)
    ax.set_yticks([0, 25, 50, 75, 100])
    ax.set_yticklabels(['0%', '25%', '50%', '75%', '100%'])
    style_axes(ax, tick_fs, lw=1.8, color='#111111', pad=4)
    ax.tick_params(axis='x', pad=tick_pad)
    ax.set_xlabel('Location', fontsize=lab_fs, labelpad=label_pad)
    ax.set_ylabel('Cell composition', fontsize=lab_fs, labelpad=4)


def cell_legend(ax, title_x, title_y, key_x, key_top, fs, title_fs, key_w, key_h, pitch, gap):
    fs_l = fs * PX
    handles = [Patch(color=c, linewidth=0) for c in cell_colors]
    # a legend patch is handleheight * fs tall, less the descent of the row
    hh = (key_h / fs_l - 0.245) / 0.65
    ax.legend(handles, cell_types, loc='upper left', bbox_to_anchor=(key_x / W, 1 - key_top / H), bbox_transform=fig.transFigure,
              frameon=False, fontsize=fs, borderpad=0, borderaxespad=0, handlelength=key_w / fs_l, handleheight=hh,
              labelspacing=(pitch - key_h) / fs_l, handletextpad=gap / fs_l)
    fig.text(title_x / W, 1 - title_y / H, 'Cell', fontsize=title_fs, ha='left', va='center', color='#111111')


# ---- A ----
groups_a = [a_cancer1, a_cancer2_primary + a_cancer2_ln, a_cancer3, a_tcells, a_cancer4, a_bcells1_primary + a_bcells1_ln,
            a_cancer5, a_bcells2_primary + a_bcells2_ln, a_macrophages, a_cancer6_primary + a_cancer6_ln]
ax = box(63, 72, 410, 380)
tsne(ax, groups_a, a_names, a_colors, a_label_pos, 12, 17)
ax.set_xlim(-39.06, 26.1)
ax.set_ylim(-25.06, 21.4)
ax.set_xticks([-20, 0, 20])
ax.set_yticks([-20, -10, 0, 10, 20])
style_axes(ax, 13)
ax.set_xlabel('tSNE_1', fontsize=14.6, labelpad=3)
ax.set_ylabel('tSNE_2', fontsize=14.6, labelpad=1)
dot_legend(ax, a_names, a_colors, 439, 460, 132.5, 20.67, 12.4, 9.5)

# ---- B ----
groups_ln = [[], a_cancer2_ln, [], [], [], a_bcells1_ln, [], a_bcells2_ln, [], a_cancer6_ln]
groups_pr = [a_cancer1, a_cancer2_primary, a_cancer3, a_tcells, a_cancer4, a_bcells1_primary, a_cancer5, a_bcells2_primary,
             a_macrophages, a_cancer6_primary]
ax_ln = box(632, 98, 979, 223)
tsne(ax_ln, groups_ln, a_names, a_colors, b_lab_ln, 9, 13)
ax_ln.set_xlim(-39.06, 26.1)
ax_ln.set_ylim(-25.4, 21.1)
ax_ln.set_yticks([-20, -10, 0, 10, 20])
style_axes(ax_ln, 13)
ax_ln.spines['bottom'].set_visible(False)
ax_ln.set_xticks([])
ax_ln.set_title('LN', fontsize=11.5, fontweight='bold', pad=3, y=1.02)
ax_pr = box(632, 256, 979, 380)
tsne(ax_pr, groups_pr, a_names, a_colors, b_lab_primary, 9, 13)
ax_pr.set_xlim(-39.06, 26.1)
ax_pr.set_ylim(-25.4, 21.4)
ax_pr.set_xticks([-20, 0, 20])
ax_pr.set_yticks([-20, -10, 0, 10, 20])
style_axes(ax_pr, 13)
ax_pr.set_title('Primary', fontsize=11.5, fontweight='bold', pad=3)
ax_pr.set_xlabel('tSNE_1', fontsize=14.6, labelpad=3)
fig.text(586 / W, 1 - 240 / H, 'tSNE_2', fontsize=14.6, rotation=90, ha='center', va='center', color='#111111')
dot_legend(ax_pr, a_names, a_colors, 1008, 1028, 144.5, 20.67, 12.4, 9.5)

# ---- C ----
ax = box(1258, 66, 1385, 381)
stack_panel(ax, c_tcell, c_macro, c_cancer, c_bcell, 0.89, 13.5, 15.4, 6, 3)
ax.set_xlim(-0.61, 1.7)
ax.set_ylim(-3.8, 105.2)
cell_legend(ax, 1409, 159, 1411, 179, 12.5, 15.5, 28, 28, 31, 11)

# ---- D ----
ax = box(89, 583, 403, 936)
ax.set_axisbelow(True)
ax.set_xticks([-3, -1, 1, 3], minor=True)
ax.set_yticks([1, 3, 5, 7], minor=True)
ax.grid(which='major', color='#EBEBEB', lw=2.2)
ax.grid(which='minor', color='#EFEFEF', lw=1.2)
df_d = pd.concat([pd.DataFrame({'x': d_ns_x, 'y': d_ns_y, 'kind': 'NS'}),
                  pd.DataFrame({'x': d_fc_x, 'y': d_fc_y, 'kind': 'FC'}),
                  pd.DataFrame({'x': d_pval_x, 'y': d_pval_y, 'kind': 'P'}),
                  pd.DataFrame({'x': d_sig_x, 'y': d_sig_y, 'kind': 'both'})])
d_pal = {'NS': '#4D4D4D', 'FC': '#138A13', 'P': '#3C62E0', 'both': '#FF0000'}
sns.scatterplot(data=df_d, x='x', y='y', hue='kind', palette=d_pal, s=58, linewidth=0, legend=False, ax=ax, zorder=3)
ax.axvline(-0.5, color='#444444', lw=1.6, ls=(0, (3.5, 2)), zorder=4)
ax.axvline(0.5, color='#444444', lw=1.6, ls=(0, (3.5, 2)), zorder=4)
ax.axhline(1.3, color='#555555', lw=1.6, ls=(0, (4.5, 2.5)), zorder=4)
for name, x, y in d_labels:
    ax.text(x, y, name, fontsize=12.7, ha='center', va='center', color='#111111', zorder=5)
ax.set_xlim(-3.27, 3.27)
ax.set_ylim(-0.4, 8.35)
ax.set_xticks([-2, 0, 2])
ax.set_yticks([0, 2, 4, 6, 8])
ax.tick_params(which='major', labelsize=13.5, labelcolor='#4D4D4D', length=7, width=1.5, color='#222222')
ax.tick_params(which='minor', length=0)
for s in ax.spines.values():
    s.set_linewidth(2)
    s.set_color('#111111')
ax.set_xlabel('Log$_2$ fold change', fontsize=13, labelpad=6, color='#222222')
ax.set_ylabel('$-$Log$_{10}$ $\\mathit{P}$', fontsize=13, labelpad=4, color='#222222')
row1 = ax.legend([Line2D([], [], ls='', marker='o', color=d_pal['NS'], ms=9), Line2D([], [], ls='', marker='o', color=d_pal['FC'], ms=9)],
                 ['NS', 'Log$_2$ FC'], loc='center left', bbox_to_anchor=(171 / W, 1 - 1012 / H), bbox_transform=fig.transFigure,
                 frameon=False, fontsize=10.4, ncol=2, handlelength=1, handletextpad=0.95, columnspacing=1.1, borderpad=0, borderaxespad=0,
                 labelcolor='#333333')
ax.add_artist(row1)
ax.legend([Line2D([], [], ls='', marker='o', color=d_pal['P'], ms=9), Line2D([], [], ls='', marker='o', color=d_pal['both'], ms=9)],
          ['p-value', 'p $-$ value and log$_2$ FC'], loc='center left', bbox_to_anchor=(128 / W, 1 - 1041 / H), bbox_transform=fig.transFigure,
          frameon=False, fontsize=10.4, ncol=2, handlelength=1, handletextpad=0.95, columnspacing=1.2, borderpad=0, borderaxespad=0,
          labelcolor='#333333')

# ---- E ----
expr_cmap = LinearSegmentedColormap.from_list('purple_yellow', ['#FF00FF', '#000000', '#FFFF00'])
heat = pd.DataFrame([serf2, calml5, fabp7, hopx, ar, cd9, pla2g2a], index=genes)
ax = box(534, 621, 767, 953)
cax = box(795, 780, 821, 915)
sns.heatmap(heat, cmap=expr_cmap, vmin=-2.5, vmax=2.5, ax=ax, cbar_ax=cax, xticklabels=False, yticklabels=True)
ax.axvline(88, color='#E8E8E8', lw=1.2)
ax.set_yticklabels(genes, rotation=0, fontsize=13.8, color='#4D4D4D')
ax.tick_params(axis='y', length=0, pad=7)
cax.set_yticks([-2, -1, 0, 1, 2])
cax.tick_params(labelsize=10.6, length=0, pad=5, labelcolor='#111111')
for v in [-2, -1, 0, 1, 2]:
    cax.axhline(v, xmin=0, xmax=0.2, color='white', lw=0.7, alpha=0.8)
    cax.axhline(v, xmin=0.8, xmax=1, color='white', lw=0.7, alpha=0.8)
bar_ax = box(534, 604, 767, 611)
sns.heatmap([identity_ids], cmap=ListedColormap(['#F8766D', '#00BFC4']), cbar=False, xticklabels=False, yticklabels=False, ax=bar_ax)
fig.text(659 / W, 1 - 579 / H, 'Primary', fontsize=12.8, rotation=45, ha='center', va='center', color='#111111')
fig.text(762 / W, 1 - 591 / H, 'LN', fontsize=12.8, rotation=45, ha='center', va='center', color='#111111')
dot_legend(ax, ['Primary', 'LN'], ['#F8766D', '#00BFC4'], 808, 830, 673, 27, 10.7, 5.5)
fig.text(795 / W, 1 - 650 / H, 'Identity', fontsize=13.4, ha='left', va='center', color='#111111')
fig.text(795 / W, 1 - 764 / H, 'Expression', fontsize=13.4, ha='left', va='center', color='#111111')

# ---- F ----
logp_cmap = LinearSegmentedColormap.from_list('logp', [(0, '#0000FF'), (1 / 3, '#A800A8'), (0.44, '#C0008C'), (2 / 3, '#DE0066'), (1, '#FF0000')])
logp_norm = Normalize(0, 3)
ax = box(1203, 586, 1475, 968)
sns.barplot(x=go_logp, y=go_terms, hue=go_terms, palette=[logp_cmap(logp_norm(v)) for v in go_logp], saturation=1, width=0.9,
            orient='h', legend=False, dodge=False, linewidth=0, ax=ax)
ax.axvline(1.3, color='black', lw=1.6, ls=(0, (4, 1.6)))
ax.set_xlim(-0.08, 2.32)
ax.set_ylim(9.65, -0.72)
ax.set_xticks([0, 0.5, 1, 1.5, 2])
ax.set_xticklabels(['0.0', '0.5', '1.0', '1.5', '2.0'])
style_axes(ax, 9.5, lw=1.2, length=3, pad=4)
ax.tick_params(axis='y', labelsize=9.4)
ax.set_xlabel('-Log p value', fontsize=12.5, labelpad=3)
ax.set_ylabel('Gene ontology terms', fontsize=13)
ax.yaxis.set_label_coords(-0.985, 0.5)
for lab in ax.get_yticklabels():
    lab.set_linespacing(1.1)
cax = box(1500, 726, 1525, 855)
fig.colorbar(ScalarMappable(norm=logp_norm, cmap=logp_cmap), cax=cax, ticks=[0, 1, 2, 3])
cax.tick_params(labelsize=9.5, length=0, pad=5)
cax.minorticks_off()
for s in cax.spines.values():
    s.set_visible(False)
for v in [1, 2]:
    cax.axhline(v, xmin=0, xmax=0.2, color='white', lw=0.7, alpha=0.7)
    cax.axhline(v, xmin=0.8, xmax=1, color='white', lw=0.7, alpha=0.7)
fig.text(1500 / W, 1 - 711 / H, 'logp', fontsize=13, ha='left', va='center', color='#111111')

# ---- G ----
groups_g = [g_cancer1, g_cancer2, g_cancer3, g_cancer4, g_tcells1, g_cancer5, g_tcells2, g_bcells, g_cancer6, g_macrophages, g_cancer7]
ax = box(48, 1132, 473, 1524)
tsne(ax, groups_g, g_names, g_colors, g_label_pos, 9, 6)
ax.set_xlim(-46.65, 48.2)
ax.set_ylim(-49.6, 48.2)
ax.set_xticks([-25, 0, 25])
ax.set_yticks([-25, 0, 25])
style_axes(ax, 9.5, lw=1.3, color='#555555')
ax.set_xlabel('tSNE_1', fontsize=11.1, labelpad=3)
ax.set_ylabel('tSNE_2', fontsize=11.1, labelpad=1)
dot_legend(ax, g_names, g_colors, 496, 512, 1246.5, 15.5, 9.7, 7)

# ---- H ----
ax = box(699, 1138, 832, 1490)
stack_panel(ax, h_tcell, h_macro, h_cancer, h_bcell, 0.885, 15.2, 16.8, 3, 4)
ax.set_xlim(-0.59, 1.59)
ax.set_ylim(-5, 105.3)
cell_legend(ax, 866, 1241, 868, 1263, 13.8, 16.8, 30, 32, 34.5, 12)

# ---- panel letters ----
for letter, x, y in [('A', 33, 18), ('B', 601, 19), ('C', 1185, 19), ('D', 33, 546), ('E', 474, 546), ('F', 924, 546),
                     ('G', 33, 1095), ('H', 611, 1095)]:
    fig.text(x / W, 1 - y / H, letter, fontsize=17.5, fontweight='bold', ha='center', va='center', color='black')

fig.savefig('out.png', dpi=100, facecolor='white')
